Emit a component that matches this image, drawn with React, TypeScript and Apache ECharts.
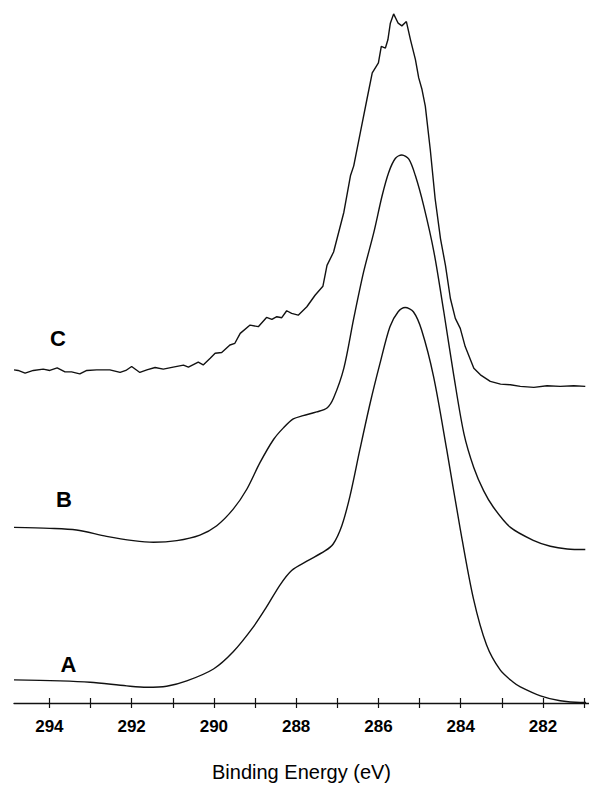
import React, { useEffect, useRef } from "react";
import * as echarts from "echarts";

// Binding energy axis (eV)
const tickValues = [281, 282, 283, 284, 285, 286, 287, 288, 289, 290, 291, 292, 293, 294];
const labelValues = [282, 284, 286, 288, 290, 292, 294];
const axisTitle = "Binding Energy (eV)";
const curveNames = ["A", "B", "C"];

// Curve A (intensity, arbitrary units, offset stacked)
const aEnergy = [294.86, 293.74, 293.01, 292.12, 291.63, 291.15, 290.66, 290.01, 289.53, 289.04, 288.72, 288.39, 288.11, 287.74, 287.30, 287.10, 286.89, 286.69, 286.45, 286.20, 285.96, 285.72, 285.52, 285.35, 285.15, 284.95, 284.66, 284.34, 284.01, 283.69, 283.37, 283.04, 282.72, 282.55, 282.06, 281.58, 281.09, 280.95];
const aIntensity = [23.2, 22.2, 20.8, 17.2, 15.8, 16.8, 22.2, 34.2, 51.5, 76.5, 96.5, 118.8, 133.2, 142.5, 152.8, 159.8, 178.2, 208.2, 254.8, 301.5, 341.5, 378.2, 393.2, 397.5, 393.2, 374.8, 328.2, 254.8, 174.8, 104.8, 58.2, 33.2, 20.8, 16.2, 7.2, 2.2, 0.5, 0.5];

// Curve B
const bEnergy = [294.86, 293.99, 293.34, 292.61, 291.96, 291.47, 290.90, 290.34, 289.93, 289.53, 289.20, 288.88, 288.55, 288.31, 288.07, 287.83, 287.50, 287.25, 287.09, 286.84, 286.60, 286.36, 286.11, 285.91, 285.75, 285.59, 285.43, 285.26, 285.10, 284.90, 284.65, 284.41, 284.17, 283.92, 283.68, 283.44, 283.20, 282.79, 282.22, 281.82, 281.41, 280.97];
const bIntensity = [176.5, 175.5, 173.8, 167.5, 163.2, 161.5, 163.2, 168.8, 178.2, 194.8, 214.8, 241.5, 264.8, 276.5, 285.5, 288.8, 292.5, 296.5, 306.5, 336.5, 386.5, 433.2, 473.2, 509.8, 533.2, 547.2, 550.8, 546.5, 529.8, 499.8, 453.2, 393.2, 329.8, 270.5, 236.5, 213.2, 196.5, 176.5, 163.2, 157.5, 154.8, 154.2];

// Curve C (noisy)
const cEnergy = [294.86, 294.76, 294.59, 294.39, 294.15, 293.99, 293.81, 293.62, 293.46, 293.26, 293.09, 292.85, 292.53, 292.28, 292.14, 292.00, 291.80, 291.63, 291.43, 291.23, 290.99, 290.74, 290.62, 290.38, 290.26, 290.09, 289.97, 289.81, 289.61, 289.49, 289.36, 289.12, 288.92, 288.72, 288.59, 288.47, 288.35, 288.23, 288.11, 287.95, 287.74, 287.54, 287.35, 287.25, 287.09, 286.84, 286.68, 286.60, 286.44, 286.28, 286.15, 286.00, 285.93, 285.83, 285.77, 285.71, 285.63, 285.52, 285.43, 285.32, 285.22, 285.10, 285.02, 284.94, 284.86, 284.74, 284.62, 284.49, 284.37, 284.25, 284.13, 284.01, 283.89, 283.68, 283.52, 283.28, 283.03, 282.79, 282.55, 282.22, 281.90, 281.58, 281.25, 280.97];
const cIntensity = [334.8, 334.2, 331.5, 334.2, 335.5, 334.2, 336.8, 332.8, 332.8, 330.8, 334.2, 334.8, 334.8, 332.2, 334.2, 338.2, 332.2, 334.8, 337.2, 335.5, 337.5, 339.5, 337.5, 342.5, 339.8, 346.5, 351.5, 352.2, 359.8, 361.5, 371.5, 379.8, 378.2, 387.5, 385.5, 388.2, 387.2, 394.2, 391.5, 389.8, 398.2, 409.8, 418.8, 439.8, 453.2, 493.2, 529.8, 539.8, 573.2, 606.5, 633.2, 643.2, 659.8, 658.2, 666.5, 683.2, 692.5, 683.2, 680.5, 684.8, 666.5, 646.5, 628.2, 616.5, 599.8, 556.5, 506.5, 466.5, 439.8, 406.5, 386.5, 376.5, 358.2, 336.5, 329.8, 323.2, 320.5, 319.8, 318.2, 317.2, 318.8, 318.2, 318.8, 318.2];

const zip = (xs: number[], ys: number[]) => xs.map((x, i) => [x, ys[i]]);

export default function App() {
  const ref = useRef<HTMLDivElement>(null);
  useEffect(() => {
    if (!ref.current) return;
    const chart = echarts.init(ref.current, null, { renderer: "svg" });
    const lineStyle = { color: "#111", width: 1.4 };
    const xMin = 280.88;
    const xMax = 294.86;
    const letterFont = "bold 22px 'Liberation Sans', Arial, sans-serif";
    chart.setOption({
      animation: false,
      backgroundColor: "#fff",
      grid: { left: 14, right: 0, top: 0, bottom: 80.5, containLabel: false },
      xAxis: [
        {
          type: "value",
          min: xMin,
          max: xMax,
          inverse: true,
          position: "bottom",
          axisLine: { show: true, lineStyle: { color: "#111", width: 1.4 } },
          axisTick: { show: true, inside: false, length: 5, customValues: tickValues, lineStyle: { color: "#111", width: 1.2 } },
          axisLabel: {
            customValues: labelValues,
            margin: 15,
            color: "#000",
            fontFamily: "'Liberation Sans Narrow', 'Arial Narrow', 'Liberation Sans', sans-serif",
            fontWeight: "bold",
            fontSize: 17,
          },
          splitLine: { show: false },
          name: axisTitle,
          nameLocation: "middle",
          nameGap: 59,
          nameTextStyle: { color: "#000", fontFamily: "'Liberation Sans', Arial, sans-serif", fontSize: 20 },
        },
        {
          type: "value",
          min: xMin,
          max: xMax,
          inverse: true,
          position: "bottom",
          offset: 0,
          axisLine: { show: false },
          axisTick: { show: true, inside: true, length: 5, customValues: tickValues, lineStyle: { color: "#111", width: 1.2 } },
          axisLabel: { show: false },
          splitLine: { show: false },
        },
      ],
      yAxis: { type: "value", min: 0, max: 706.5, show: false },
      graphic: [
        { type: "text", x: 58, y: 338, style: { text: curveNames[2], font: letterFont, fill: "#000", textAlign: "center", textVerticalAlign: "middle" } },
        { type: "text", x: 64, y: 499.5, style: { text: curveNames[1], font: letterFont, fill: "#000", textAlign: "center", textVerticalAlign: "middle" } },
        { type: "text", x: 68.5, y: 664.5, style: { text: curveNames[0], font: letterFont, fill: "#000", textAlign: "center", textVerticalAlign: "middle" } },
      ],
      series: [
        { name: curveNames[0], type: "line", xAxisIndex: 0, data: zip(aEnergy, aIntensity), showSymbol: false, smooth: 0.3, lineStyle, silent: true },
        { name: curveNames[1], type: "line", xAxisIndex: 0, data: zip(bEnergy, bIntensity), showSymbol: false, smooth: 0.3, lineStyle, silent: true },
        { name: curveNames[2], type: "line", xAxisIndex: 0, data: zip(cEnergy, cIntensity), showSymbol: false, smooth: false, lineStyle, silent: true },
      ],
    });
    return () => chart.dispose();
  }, []);
  return <div ref={ref} style={{ position: "absolute", left: 0, top: 0, width: 589, height: 787 }} />;
}
